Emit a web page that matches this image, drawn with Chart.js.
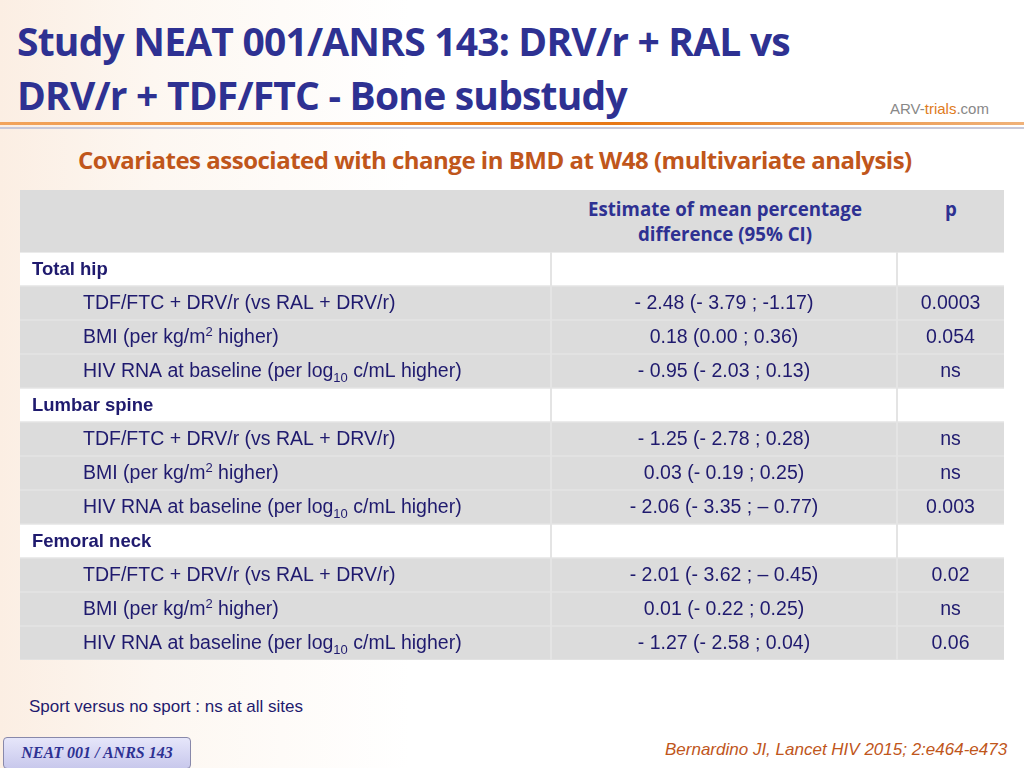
<!DOCTYPE html>
<html><head><meta charset="utf-8">
<script src="https://cdn.jsdelivr.net/npm/chart.js"></script>
<style>
body{margin:0;width:1024px;height:768px;overflow:hidden;position:relative;font-family:"Liberation Sans",Arial,sans-serif;
background:linear-gradient(90deg,#fbeee3 0%,#fdf7f1 15%,#ffffff 40%);}
#title{position:absolute;left:17px;top:14px;font-family:"Open Sans",sans-serif;font-weight:700;font-size:39px;line-height:54px;color:#2e3192;letter-spacing:-0.8px}
#line1{position:absolute;left:0;top:122px;width:1024px;height:3px;background:linear-gradient(90deg,#f2a45c,#e77817 60%,#f0b27a)}
#line2{position:absolute;left:0;top:127px;width:1024px;height:2px;background:#c8c8d8}
#logo{position:absolute;left:890px;top:100px;font-size:15px;color:#888}
#logo b{color:#e07b20;font-weight:400}
#sub{position:absolute;left:78px;top:143px;font-family:"Open Sans",sans-serif;font-weight:700;font-size:24px;color:#c0561b;letter-spacing:-0.5px}
#hdr{position:absolute;left:20px;top:190px;width:984px;height:62px;background:#dcdcdc}
.h{position:absolute;color:#2e3192;font-family:"Open Sans",sans-serif;font-weight:700;font-size:18.7px;text-align:center;line-height:25px;top:6px}
#wrap{position:absolute;left:20px;top:252px;width:984px;height:408px}
#note{position:absolute;left:29px;top:697px;font-size:17px;color:#1f1a6e}
#box{position:absolute;left:3px;top:737px;width:186px;height:30px;border:1px solid #8888aa;border-radius:4px;background:linear-gradient(#e6e6fa,#c8c8ec);font-family:"Liberation Serif",serif;font-style:italic;font-weight:700;font-size:16px;color:#2e3192;line-height:30px;text-align:center}
#ref{position:absolute;left:665px;top:740px;font-size:17px;font-style:italic;color:#c0561b}
</style></head><body>
<div id="title">Study NEAT 001/ANRS 143: DRV/r + RAL vs<br>DRV/r + TDF/FTC - Bone substudy</div>
<div id="line1"></div><div id="line2"></div>
<div id="logo">ARV-<b>trials</b>.com</div>
<div id="sub">Covariates associated with change in BMD at W48 (multivariate analysis)</div>
<div id="hdr"><div class="h" style="left:532px;width:346px">Estimate of mean percentage<br>difference (95% CI)</div><div class="h" style="left:878px;width:106px">p</div></div>
<div id="wrap"><canvas id="c"></canvas></div>
<div id="note">Sport versus no sport : ns at all sites</div>
<div id="box">NEAT 001 / ANRS 143</div>
<div id="ref">Bernardino JI, Lancet HIV 2015; 2:e464-e473</div>
<script>
const rows=["Total hip","TDF/FTC + DRV/r (vs RAL + DRV/r)","BMI (per kg/m2 higher)","HIV RNA at baseline (per log10 c/mL higher)",
"Lumbar spine","TDF/FTC + DRV/r (vs RAL + DRV/r)","BMI (per kg/m2 higher)","HIV RNA at baseline (per log10 c/mL higher)",
"Femoral neck","TDF/FTC + DRV/r (vs RAL + DRV/r)","BMI (per kg/m2 higher)","HIV RNA at baseline (per log10 c/mL higher)"];
const isSection=[1,0,0,0,1,0,0,0,1,0,0,0];
const estimates=["","- 2.48 (- 3.79 ; -1.17)","0.18 (0.00 ; 0.36)","- 0.95 (- 2.03 ; 0.13)","","- 1.25 (- 2.78 ; 0.28)","0.03 (- 0.19 ; 0.25)","- 2.06 (- 3.35 ; \u2013 0.77)","","- 2.01 (- 3.62 ; \u2013 0.45)","0.01 (- 0.22 ; 0.25)","- 1.27 (- 2.58 ; 0.04)"];
const pvals=["","0.0003","0.054","ns","","ns","ns","0.003","","0.02","ns","0.06"];
const colEdges=[0,531,877,984];
const labels=rows.map((r,i)=>"r"+i);
const cellDs=(k)=>({data:rows.map(()=>[colEdges[k]+(k?1:0),colEdges[k+1]-(k<2?1:0)]),order:1,
  backgroundColor:isSection.map(s=>s?"#ffffff":"#dcdcdc"),grouped:false,categoryPercentage:1,barPercentage:0.95});
const textPlugin={id:"txt",afterDatasetsDraw(ch){
 const c=ch.ctx,x=ch.scales.x,y=ch.scales.y;c.save();c.fillStyle="#1f1a6e";c.textBaseline="middle";
 const F="19.5px 'Liberation Sans'";
 rows.forEach((r,i)=>{const yy=y.getPixelForValue(i)+1;
  if(isSection[i]){c.font="bold 18.5px 'Liberation Sans'";c.textAlign="left";c.fillText(r,x.getPixelForValue(12),yy);return;}
  c.font=F;c.textAlign="left";
  let px=x.getPixelForValue(63);
  const m=r.match(/^(.*)(m2|log10)(.*)$/);
  if(m){const base=m[2]==="m2"?"m":"log";const sup=m[2]==="m2"?"2":"10";
   c.fillText(m[1]+base,px,yy);px+=c.measureText(m[1]+base).width;
   c.font="13px 'Liberation Sans'";c.fillText(sup,px,m[2]==="m2"?yy-6:yy+6);px+=c.measureText(sup).width;
   c.font=F;c.fillText(m[3],px,yy);}
  else c.fillText(r,px,yy);
  c.textAlign="center";
  c.fillText(estimates[i],x.getPixelForValue((colEdges[1]+colEdges[2])/2),yy);
  c.fillText(pvals[i],x.getPixelForValue((colEdges[2]+colEdges[3])/2),yy);
 });c.restore();}};
new Chart(document.getElementById("c"),{type:"bar",
 data:{labels,datasets:[
  {data:rows.map(()=>[0,984]),backgroundColor:"#e4e4e4",order:2,grouped:false,categoryPercentage:1,barPercentage:1.01},
  cellDs(0),cellDs(1),cellDs(2)]},
 options:{indexAxis:"y",responsive:true,maintainAspectRatio:false,animation:false,
  layout:{padding:0},
  plugins:{legend:{display:false},tooltip:{enabled:false}},
  scales:{x:{type:"linear",min:0,max:984,display:false},y:{display:false,offset:true}}},
 plugins:[textPlugin]});
</script></body></html>
